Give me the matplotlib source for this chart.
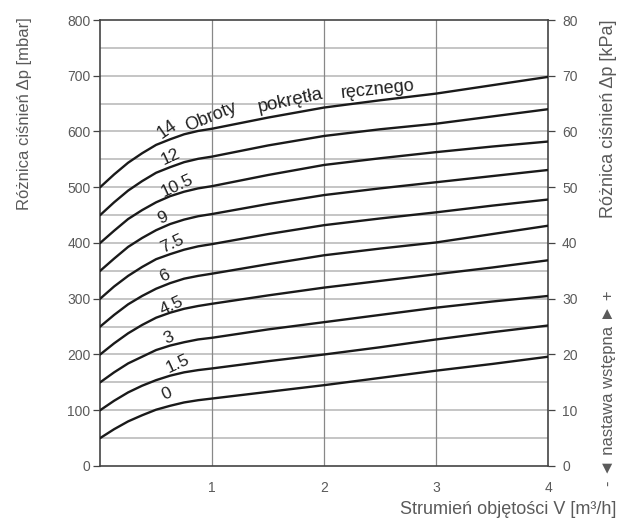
import numpy as np
import matplotlib
matplotlib.use("Agg")
import matplotlib.pyplot as plt

plt.rcParams['font.family'] = ['Liberation Sans', 'DejaVu Sans']

# Data
flow = [0, 0.125, 0.25, 0.375, 0.5, 0.625, 0.75, 0.875, 1, 1.5, 2, 2.5, 3, 3.5, 4]  # m3/h
settings = ["0", "1.5", "3", "4.5", "6", "7.5", "9", "10.5", "12", "14"]
dp_0    = [50, 66, 80, 91, 101, 108, 114, 118, 121, 133, 145, 158, 171, 183, 196]
dp_1_5  = [100, 117, 132, 144, 154, 162, 168, 172, 175, 188, 200, 213, 227, 240, 252]
dp_3    = [150, 168, 184, 196, 208, 216, 222, 227, 230, 245, 258, 271, 284, 295, 305]
dp_4_5  = [200, 220, 238, 253, 266, 275, 282, 287, 291, 306, 320, 332, 344, 356, 369]
dp_6    = [250, 271, 290, 305, 318, 328, 336, 341, 345, 362, 378, 390, 401, 416, 431]
dp_7_5  = [300, 322, 341, 357, 371, 380, 388, 394, 398, 416, 432, 444, 455, 467, 478]
dp_9    = [350, 372, 393, 409, 423, 434, 442, 448, 452, 470, 486, 498, 509, 520, 531]
dp_10_5 = [400, 422, 443, 459, 473, 484, 492, 498, 502, 522, 540, 552, 563, 573, 582]
dp_12   = [450, 473, 494, 511, 526, 536, 545, 551, 555, 575, 592, 604, 614, 627, 640]
dp_14   = [500, 523, 544, 561, 576, 586, 595, 601, 605, 625, 643, 656, 668, 683, 698]
series = [dp_0, dp_1_5, dp_3, dp_4_5, dp_6, dp_7_5, dp_9, dp_10_5, dp_12, dp_14]
curve_labels = ["0", "1.5", "3", "4.5", "6", "7.5", "9", "10.5", "12"]
top_label_words = ["14", "Obroty", "pokrętła", "ręcznego"]
x_ticks = [1, 2, 3, 4]
y_ticks_mbar = [0, 100, 200, 300, 400, 500, 600, 700, 800]
y_ticks_kpa = [0, 10, 20, 30, 40, 50, 60, 70, 80]

txt = "#5a5a5a"
fig = plt.figure(figsize=(6.18, 5.25), dpi=100)
ax = fig.add_axes([0.162, 0.1124, 0.725, 0.8495])
ax.set_xlim(0, 4)
ax.set_ylim(0, 800)

# grid
for yv in np.arange(50, 800, 50):
    ax.axhline(yv, color="#c0c0c0", lw=1.3, zorder=1)
for xv in [1, 2, 3]:
    ax.axvline(xv, color="#888888", lw=0.9, zorder=1)

for s in series:
    ax.plot(flow, s, color="#1a1a1a", lw=1.7, zorder=3, solid_capstyle="round",
            solid_joinstyle="round")

# curve labels
lab_x = [0.60, 0.69, 0.61, 0.64, 0.58, 0.64, 0.56, 0.69, 0.63]
lab_dy = [22, 18, 14, 12, 16, 17, 16, 15, 19]
for s, lab, lx, dy in zip(series[:-1], curve_labels, lab_x, lab_dy):
    yv = np.interp(lx, flow, s)
    ax.text(lx, yv + dy, lab, fontsize=12.5, color="#222222", rotation=25,
            rotation_mode="anchor", ha="center", va="center", zorder=4)

# curved top label along the 14 curve
word_x = [0.60, 0.99, 1.70, 2.475]
word_dy = [19, 22, 23, 20]
word_rot = [35, 22, 12, 6]
word_fs = [13, 13, 13.5, 13]
for w, wx, dy, wr, fs in zip(top_label_words, word_x, word_dy, word_rot, word_fs):
    yv = np.interp(wx, flow, dp_14)
    ax.text(wx, yv + dy, w, fontsize=fs, color="#222222", rotation=wr,
            rotation_mode="anchor", ha="center", va="center", zorder=4)

for sp in ax.spines.values():
    sp.set_color("#444444")
    sp.set_linewidth(1.2)

ax.set_yticks(y_ticks_mbar)
ax.set_yticklabels([str(v) for v in y_ticks_mbar])
ax.tick_params(axis="y", direction="out", length=5, width=0.9, colors="#444444",
               labelcolor=txt, labelsize=10, pad=2)
ax.set_xticks(x_ticks)
ax.set_xticklabels([str(v) for v in x_ticks])
ax.tick_params(axis="x", length=0, labelcolor=txt, labelsize=10, pad=11)

ax2 = ax.twinx()
ax2.set_ylim(0, 80)
ax2.set_yticks(y_ticks_kpa)
ax2.set_yticklabels([str(v) for v in y_ticks_kpa])
ax2.tick_params(axis="y", direction="out", length=5, width=0.9, colors="#444444",
                labelcolor=txt, labelsize=10, pad=5)
for sp in ax2.spines.values():
    sp.set_visible(False)

fig.text(0.040, 0.968, "Różnica ciśnień Δp [mbar]", rotation=90, ha="center",
         va="top", fontsize=12, color=txt)
fig.text(0.984, 0.962, "Różnica ciśnień Δp [kPa]", rotation=90, ha="center",
         va="top", fontsize=13, color=txt)
fig.text(0.984, 0.261, "- ◄ nastawa wstępna ► +", rotation=90, ha="center",
         va="center", fontsize=12, color=txt)
fig.text(0.998, 0.029, "Strumień objętości V [m³/h]", ha="right", va="center",
         fontsize=13, color=txt)

fig.savefig("out.png", dpi=100, facecolor="white")
